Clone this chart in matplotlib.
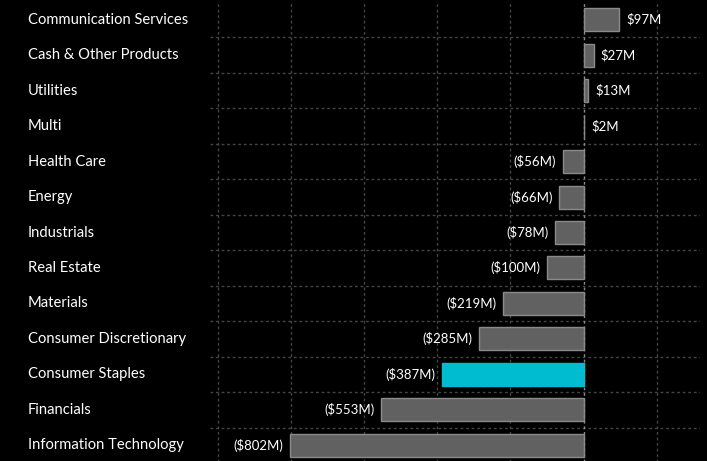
import matplotlib
matplotlib.use("Agg")
import matplotlib.pyplot as plt
import matplotlib.transforms as mtrans

categories = ["Communication Services", "Cash & Other Products", "Utilities", "Multi",
              "Health Care", "Energy", "Industrials", "Real Estate", "Materials",
              "Consumer Discretionary", "Consumer Staples", "Financials",
              "Information Technology"]
values = [97, 27, 13, 2, -56, -66, -78, -100, -219, -285, -387, -553, -802]
highlight = "Consumer Staples"

plt.rcParams['font.family'] = ['Lato', 'DejaVu Sans']

fig = plt.figure(figsize=(7.07, 4.61), dpi=100, facecolor='black')
ax = fig.add_axes([210/707, -2/461, (700-210)/707, 1])
ax.set_facecolor('none')

n = len(categories)
ys = list(range(n))
colors = ['#00BCD0' if c == highlight else '#616161' for c in categories]
edges = ['#00BCD0' if c == highlight else '#8a8a8a' for c in categories]
ax.barh(ys, values, height=0.65, color=colors, edgecolor=edges, linewidth=1.0, zorder=3)

ax.set_ylim(n - 0.5, -0.5)
ax.set_xlim(-1021, 318)

for x in range(-1000, 400, 200):
    if x == 0:
        ax.axvline(0, color='#8a8a8a', lw=1.0, ls=(0, (2, 2)), zorder=4)
    else:
        ax.axvline(x, color='#444444', lw=1.0, ls=(0, (2, 2)), zorder=1)
for i in range(n - 1):
    ax.axhline(i + 0.5, color='#444444', lw=1.0, ls=(0, (2, 2)), zorder=1)

for s in ax.spines.values():
    s.set_visible(False)
ax.set_xticks([])
ax.set_yticks([])

def fmt(v):
    return f"${v}M" if v >= 0 else f"(${-v}M)"

for y, v in zip(ys, values):
    if v >= 0:
        ax.annotate(fmt(v), (v, y), xytext=(5, 0), textcoords='offset points',
                    ha='left', va='center', color='white', fontsize=9.5, zorder=5)
    else:
        ax.annotate(fmt(v), (v, y), xytext=(-5, 0), textcoords='offset points',
                    ha='right', va='center', color='white', fontsize=9.5, zorder=5)

tr = mtrans.blended_transform_factory(fig.transFigure, ax.transData)
for y, c in zip(ys, categories):
    ax.text(28/707, y, c, transform=tr, ha='left', va='center', color='white',
            fontsize=10.6)

fig.savefig("out.png", dpi=100, facecolor='black')
